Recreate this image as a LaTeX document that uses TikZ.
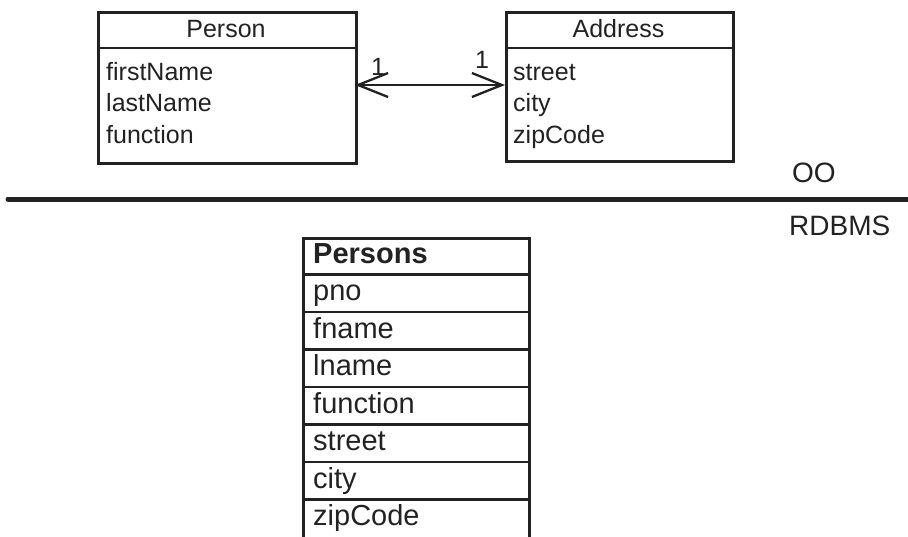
\documentclass[tikz,border=0pt]{standalone}
\usepackage{fontspec}
\setmainfont{Liberation Sans}
\usetikzlibrary{arrows.meta}
\definecolor{ink}{HTML}{222222}
\begin{document}
\begin{tikzpicture}[x=1pt,y=-1pt,
  box/.style={draw=ink, line width=2.5pt, inner sep=0pt, anchor=north west},
  rule/.style={draw=ink, line width=2.5pt},
  attr/.style={anchor=base west, inner sep=0pt, text=ink, font=\fontsize{25}{28}\selectfont},
  ttl/.style={anchor=base, inner sep=0pt, text=ink, font=\fontsize{25}{28}\selectfont},
  mult/.style={anchor=base, inner sep=0pt, text=ink, font=\fontsize{25}{28}\selectfont},
  cell/.style={anchor=base west, inner sep=0pt, text=ink, font=\fontsize{29}{34}\selectfont},
  side/.style={anchor=base west, inner sep=0pt, text=ink, font=\fontsize{28}{32}\selectfont},
  assoc/.style={draw=ink, line width=2.3pt, {Straight Barb[length=30pt,width=24pt]}-{Straight Barb[length=30pt,width=24pt]}}
]
\useasboundingbox (0,0) rectangle (908,536);

% Person class
\node[box, minimum width=258pt, minimum height=151pt] (person) at (97,11) {};
\draw[rule] (97,48) -- (355,48);
\node[ttl] (persontitle) at (226,37) {Person};
\node[attr] (pfirst) at (106,80) {firstName};
\node[attr] (plast) at (106,111) {lastName};
\node[attr] (pfunc) at (106,143) {function};

% Address class
\node[box, minimum width=227pt, minimum height=149pt] (address) at (505,11) {};
\draw[rule] (505,48) -- (732,48);
\node[ttl] (addresstitle) at (618.5,37) {Address};
\node[attr] (astreet) at (513,80) {street};
\node[attr] (acity) at (513,111) {city};
\node[attr] (azip) at (513,143) {zipCode};

% association
\coordinate (pe) at (355,85);
\coordinate (ae) at (505,85);
\draw[assoc] (pe) -- (ae);
\node[mult] (m1) at (378,75) {1};
\node[mult] (m2) at (482,68) {1};

% separator
\draw[draw=ink, line width=5pt, line cap=round] (8,199) -- (915,199);
\node[side] (oo) at (792,182) {OO};
\node[side] (rdbms) at (789,235) {RDBMS};

% Persons table
\node[box, minimum width=226pt, minimum height=320pt] (persons) at (302,237) {};
\foreach \k in {1,...,7} {
  \draw[rule] (302,237+37.5*\k) -- (528,237+37.5*\k);
}
\node[cell, font=\fontsize{29}{34}\selectfont\bfseries] (t0) at (313,263) {Persons};
\node[cell] (t1) at (313,300.5) {pno};
\node[cell] (t2) at (313,338) {fname};
\node[cell] (t3) at (313,375.5) {lname};
\node[cell] (t4) at (313,413) {function};
\node[cell] (t5) at (313,450.5) {street};
\node[cell] (t6) at (313,488) {city};
\node[cell] (t7) at (313,525.5) {zipCode};
\end{tikzpicture}
\end{document}
